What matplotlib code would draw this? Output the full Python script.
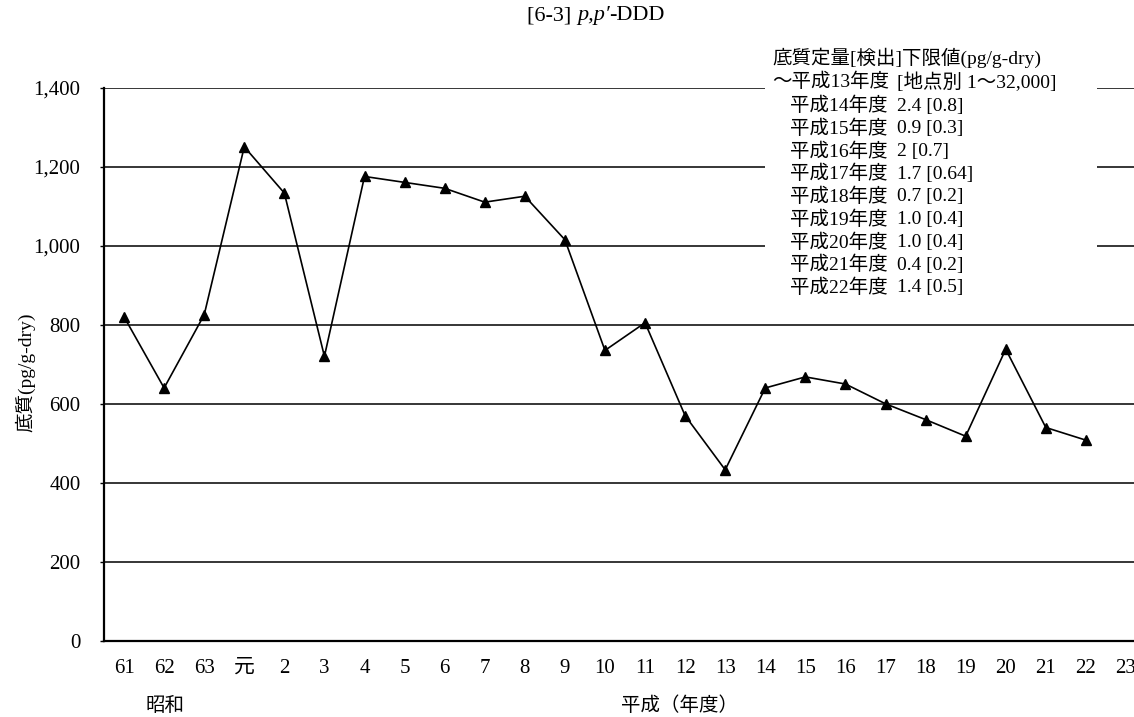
import matplotlib
matplotlib.use("Agg")
import matplotlib.pyplot as plt
from matplotlib.patches import Rectangle
from matplotlib.ticker import FuncFormatter

# --- datos ---
anios = ["61", "62", "63", "元", "2", "3", "4", "5", "6", "7", "8", "9", "10",
         "11", "12", "13", "14", "15", "16", "17", "18", "19", "20", "21", "22", "23"]
valores = [820, 640, 825, 1250, 1133, 720, 1175, 1160, 1145, 1110, 1125, 1015,
           735, 805, 570, 433, 640, 668, 650, 600, 560, 518, 738, 540, 508]

leyenda_titulo = "底質定量[検出]下限値(pg/g-dry)"
leyenda_primera = ("～平成13年度", "[地点別 1～32,000]")
leyenda_anios = ["平成14年度", "平成15年度", "平成16年度", "平成17年度", "平成18年度",
                 "平成19年度", "平成20年度", "平成21年度", "平成22年度"]
leyenda_valores = ["2.4 [0.8]", "0.9 [0.3]", "2 [0.7]", "1.7 [0.64]", "0.7 [0.2]",
                   "1.0 [0.4]", "1.0 [0.4]", "0.4 [0.2]", "1.4 [0.5]"]

plt.rcParams["font.family"] = ["Liberation Serif", "Noto Sans CJK JP"]

W, H = 1134, 717
fig = plt.figure(figsize=(W / 100, H / 100), dpi=100)


def px(x, y):
    # pixel -> fraccion de figura
    return x / W, 1 - y / H


x0, y_top, x1, y_bot = 104, 87.5, 1146, 641
ax = fig.add_axes([x0 / W, 1 - y_bot / H, (x1 - x0) / W, (y_bot - y_top) / H])

xs = list(range(len(valores)))
ax.plot(xs, valores, color="black", lw=1.2, marker="^", markersize=7, zorder=3)

ax.set_xlim(-0.5, len(anios) - 0.5)
ax.set_ylim(0, 1400)
ax.set_xticks(range(len(anios)))
ax.set_xticklabels(anios)
ax.set_yticks(range(0, 1401, 200))
ax.yaxis.set_major_formatter(FuncFormatter(lambda v, p: f"{int(v):,}"))

ax.grid(axis="y", color="black", lw=1.1)
ax.set_axisbelow(True)
for s in ["top", "right"]:
    ax.spines[s].set_visible(False)
ax.spines["left"].set_linewidth(1.6)
ax.spines["bottom"].set_linewidth(1.6)
ax.tick_params(axis="y", length=3, width=1, pad=14, labelsize=15)
ax.tick_params(axis="x", length=0, pad=13, labelsize=15)

# titulo en tres trozos: normal / cursiva / normal
t1 = fig.text(*px(527, 20), "[6-3] ", ha="left", va="baseline", fontsize=16)
t2 = fig.text(0, 0, "p,p\u2032", fontsize=16, style="italic", ha="left", va="baseline",
              transform=matplotlib.transforms.offset_copy(t1.get_transform(), fig=fig))
fig.canvas.draw()
r = fig.canvas.get_renderer()
bb1 = t1.get_window_extent(r)
t2.set_transform(fig.transFigure)
t2.set_position((bb1.x1 / W, 1 - 20 / H))
fig.canvas.draw()
bb2 = t2.get_window_extent(r)
fig.text(bb2.x1 / W, 1 - 20 / H, "-DDD", ha="left", va="baseline", fontsize=16)

fig.text(*px(25, 372), "底質(pg/g-dry)", rotation=90, ha="center", va="center", fontsize=14)
fig.text(*px(165, 706), "昭和", ha="center", va="center", fontsize=14)
fig.text(*px(679, 706), "平成（年度）", ha="center", va="center", fontsize=14)

# caja de la leyenda (tapa las lineas de la cuadricula)
bx0, by0 = px(765, 300)
bx1, by1 = px(1097, 40)
fig.add_artist(Rectangle((bx0, by0), bx1 - bx0, by1 - by0, transform=fig.transFigure,
                         facecolor="white", edgecolor="none", zorder=1))

fs = 14
fig.text(*px(772, 58), leyenda_titulo, ha="left", va="center", fontsize=fs, zorder=4)
fig.text(*px(772, 82), leyenda_primera[0], ha="left", va="center", fontsize=fs, zorder=4)
fig.text(*px(897, 82), leyenda_primera[1], ha="left", va="center", fontsize=fs, zorder=4)
for k, (a, v) in enumerate(zip(leyenda_anios, leyenda_valores)):
    y = 106 + k * 22.75
    fig.text(*px(790, y), a, ha="left", va="center", fontsize=fs, zorder=4)
    fig.text(*px(897, y), v, ha="left", va="center", fontsize=fs, zorder=4)

fig.savefig("out.png", dpi=100)
